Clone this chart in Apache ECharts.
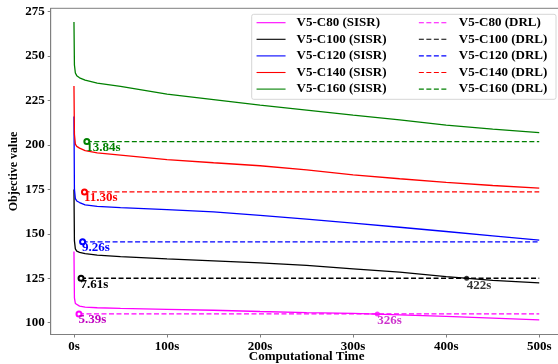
<!DOCTYPE html>
<html>
<head>
<meta charset="utf-8">
<script src="https://cdn.jsdelivr.net/npm/echarts@6/dist/echarts.min.js"></script>
<style>
    html, body {margin: 0; padding: 0; background: #fff;}
    #chart {width: 558px; height: 364px;}
</style>
</head>
<body>
<div id="chart"></div>
<script>
// time samples (s) shared by the SISR curves
const times = [0, 0.5, 1.5, 3, 6, 12, 25, 50, 100, 150, 200, 250, 300, 350, 400, 450, 500];
const sisrC80 = [140, 114, 110.8, 109.9, 109.3, 108.8, 108.4, 108.0, 107.5, 107.0, 106.3, 105.7, 105.2, 104.4, 103.6, 102.6, 101.6];
const sisrC100 = [175, 146, 141.5, 140.3, 139.6, 138.9, 138.0, 137.2, 135.9, 134.8, 133.6, 132.2, 130.3, 128.4, 125.9, 123.8, 122.4];
const sisrC120 = [216, 175, 169.8, 168.5, 167.6, 166.3, 165.5, 164.7, 163.6, 162.3, 160.4, 158.3, 156.0, 153.7, 151.3, 148.9, 146.4];
const sisrC140 = [233.2, 206, 200.5, 199.2, 198.2, 196.8, 195.5, 194.3, 191.8, 190.0, 188.3, 186.0, 183.2, 181.0, 178.9, 177.2, 175.7];
const sisrC160 = [269.2, 245, 240.5, 239.0, 237.8, 236.5, 234.8, 233.0, 228.6, 225.5, 222.4, 219.6, 216.8, 214.1, 211.2, 208.9, 206.9];

// DRL results: solve time and objective
const drlTime = [5.39, 7.61, 9.26, 11.30, 13.84];
const drlValue = [104.9, 125.0, 145.5, 173.6, 201.9];
const drlEnd = 500;

// where SISR catches up with DRL
const crossTime = [326, 422];
const crossValue = [104.9, 125.0];
const crossIndex = [0, 1];

const xTicks = [0, 100, 200, 300, 400, 500];
const yTicks = [100, 125, 150, 175, 200, 225, 250, 275];

const names = ['V5-C80', 'V5-C100', 'V5-C120', 'V5-C140', 'V5-C160'];
const sisrAll = [sisrC80, sisrC100, sisrC120, sisrC140, sisrC160];
const colors = ['#ff00ff', '#000000', '#0000ff', '#ff0000', '#008000'];
const textColors = ['#bf00bf', '#000000', '#0000ff', '#ff0000', '#008000'];

const font = '"Liberation Serif", "Times New Roman", serif';
const spine = '#7f7f7f';

let series = [];
names.forEach((n, i) => {
    series.push({
        name: n + ' (SISR)',
        type: 'line',
        symbol: 'none',
        z: 2,
        lineStyle: {color: colors[i], width: 1.3},
        itemStyle: {color: colors[i]},
        data: times.map((t, k) => [t, sisrAll[i][k]])
    });
});
names.forEach((n, i) => {
    series.push({
        name: n + ' (DRL)',
        type: 'line',
        symbol: 'none',
        z: 3,
        lineStyle: {color: colors[i], width: 1.3, type: [5, 2.5]},
        itemStyle: {color: colors[i]},
        data: [
            {
                value: [drlTime[i], drlValue[i]],
                symbol: 'emptyCircle',
                symbolSize: 5,
                itemStyle: {color: colors[i], borderWidth: 0.7},
                label: {
                    show: true,
                    position: [3, 3],
                    align: 'left',
                    verticalAlign: 'top',
                    formatter: drlTime[i].toFixed(2) + 's',
                    color: textColors[i],
                    fontFamily: font,
                    fontWeight: 'bold',
                    fontSize: 13
                }
            },
            [drlEnd, drlValue[i]]
        ]
    });
});
crossTime.forEach((t, j) => {
    let i = crossIndex[j];
    series.push({
        type: 'scatter',
        symbol: 'circle',
        symbolSize: 5,
        z: 4,
        itemStyle: {color: colors[i]},
        label: {
            show: true,
            position: [2.5, 3],
            align: 'left',
            verticalAlign: 'top',
            formatter: t + 's',
            color: textColors[i],
            fontFamily: font,
            fontWeight: 'bold',
            fontSize: 13
        },
        data: [[t, crossValue[j]]]
    });
});

const legendText = {fontFamily: font, fontWeight: 'bold', fontSize: 13, color: '#000', lineHeight: 16.6, padding: [0, 0, 0, 6]};
const legendBase = {
    z: 20,
    top: 14.4,
    orient: 'vertical',
    padding: 0,
    itemGap: 0,
    itemWidth: 29,
    itemHeight: 10,
    itemStyle: {opacity: 0},
    lineStyle: {width: 1.1},
    textStyle: legendText
};

let option = {
    animation: false,
    backgroundColor: '#fff',
    grid: {
        left: 50.7, top: 8.3, width: 511.8, height: 326.2,
        outerBoundsMode: 'none',
        show: true, borderColor: spine, borderWidth: 1
    },
    xAxis: {
        type: 'value',
        min: -25,
        max: 525,
        name: 'Computational Time',
        nameLocation: 'middle',
        nameGap: 16,
        nameMoveOverlap: false,
        nameTextStyle: {fontFamily: font, fontWeight: 'bold', fontSize: 13, color: '#000'},
        axisLine: {onZero: false, lineStyle: {color: spine}},
        axisTick: {customValues: xTicks, length: 3, lineStyle: {color: spine}},
        axisLabel: {customValues: xTicks, formatter: '{value}s', margin: 6, fontFamily: font, fontWeight: 'bold', fontSize: 13, color: '#000'},
        splitLine: {show: false}
    },
    yAxis: {
        type: 'value',
        min: 93.35,
        max: 276.9,
        name: 'Objective value',
        nameLocation: 'middle',
        nameGap: 31,
        nameMoveOverlap: false,
        nameTextStyle: {fontFamily: font, fontWeight: 'bold', fontSize: 12, color: '#000'},
        axisLine: {onZero: false, lineStyle: {color: spine}},
        axisTick: {customValues: yTicks, length: 3, lineStyle: {color: spine}},
        axisLabel: {customValues: yTicks, margin: 6, fontFamily: font, fontWeight: 'bold', fontSize: 13, color: '#000'},
        splitLine: {show: false}
    },
    graphic: {
        elements: [{
            type: 'rect',
            z: 10,
            shape: {x: 251.7, y: 14.3, width: 304.3, height: 85, r: 2},
            style: {fill: 'rgba(255,255,255,0.9)', stroke: '#d6d6d6', lineWidth: 1}
        }]
    },
    legend: [
        Object.assign({left: 256, data: names.map(n => n + ' (SISR)')}, legendBase),
        Object.assign({left: 418.3, data: names.map(n => n + ' (DRL)')}, legendBase)
    ],
    series: series
};

let myChart = echarts.init(document.getElementById('chart'));
myChart.setOption(option);
</script>
</body>
</html>
